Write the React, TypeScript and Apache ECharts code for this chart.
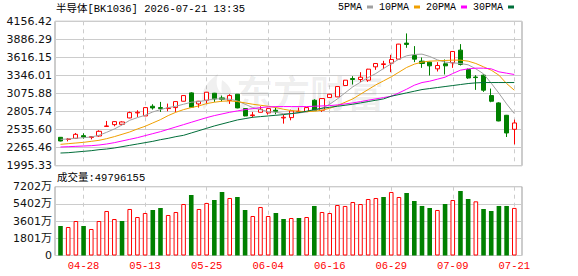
import React, { useEffect, useRef } from 'react';
import * as echarts from 'echarts';

const dates = ['04-23','04-24','04-27','04-28','04-29','04-30','05-06','05-07','05-08','05-11','05-12','05-13','05-14','05-15','05-18','05-19','05-20','05-21','05-22','05-25','05-26','05-27','05-28','05-29','06-01','06-02','06-03','06-04','06-05','06-08','06-09','06-10','06-11','06-12','06-15','06-16','06-17','06-18','06-22','06-23','06-24','06-25','06-26','06-29','06-30','07-01','07-02','07-03','07-06','07-07','07-08','07-09','07-10','07-13','07-14','07-15','07-16','07-17','07-20','07-21'];

const opens = [2420,2388,2405,2445,2418,2440,2583,2610,2615,2710,2785,2740,2885,2865,2850,2865,2960,3085,2920,2975,3080,3010,2970,3065,2850,2745,2795,2785,2825,2710,2715,2805,2805,2975,2825,3015,3025,3195,3300,3285,3275,3475,3510,3530,3590,3830,3645,3560,3545,3445,3520,3535,3725,3435,3322,3350,3045,2935,2750,2540];
const closes = [2365,2395,2465,2425,2430,2510,2590,2655,2650,2790,2795,2865,2860,2850,2860,2955,3045,2870,2960,3095,2995,2990,3045,2860,2740,2755,2840,2850,2810,2720,2815,2810,2865,2820,3000,3065,3180,3275,3285,3320,3440,3525,3520,3585,3815,3810,3590,3525,3490,3495,3490,3705,3510,3308,3314,3125,2960,2665,2485,2635];
const lows = [2360,2360,2395,2400,2390,2430,2582,2585,2600,2705,2725,2740,2835,2800,2810,2800,2958,2860,2865,2925,2950,2955,2920,2855,2735,2715,2793,2760,2765,2625,2675,2800,2800,2815,2800,3010,3023,3193,3210,3245,3250,3430,3440,3395,3588,3760,3545,3460,3345,3405,3360,3460,3495,3295,3130,3100,2945,2660,2425,2315];
const highs = [2425,2410,2485,2480,2437,2525,2665,2660,2660,2805,2825,2868,2915,2950,2925,2958,3048,3095,2965,3100,3085,3045,3065,3068,2855,2800,2885,2860,2865,2760,2835,2865,2870,2990,3003,3070,3183,3278,3335,3395,3445,3530,3565,3655,3818,3975,3785,3615,3550,3545,3585,3707,3815,3450,3350,3365,3150,2945,2755,2685];

const ma5 = [2390,2395,2405,2415,2425,2450,2495,2545,2605,2675,2715,2750,2800,2835,2865,2885,2915,2945,2955,2975,2995,2995,2990,2965,2915,2865,2835,2805,2795,2775,2775,2785,2800,2825,2855,2915,2995,3085,3175,3245,3315,3375,3450,3520,3590,3640,3660,3665,3630,3580,3545,3535,3525,3505,3445,3370,3230,3080,2920,2775];
const ma10 = [2315,2325,2335,2345,2360,2375,2400,2430,2465,2500,2545,2585,2635,2685,2745,2795,2835,2865,2890,2925,2945,2960,2965,2955,2935,2915,2900,2885,2865,2840,2820,2810,2805,2810,2825,2855,2895,2945,2995,3065,3135,3205,3265,3325,3395,3465,3515,3545,3560,3565,3570,3575,3575,3560,3525,3475,3425,3350,3225,3125];
const ma20 = [2275,2280,2285,2290,2295,2305,2320,2340,2365,2390,2415,2445,2475,2505,2540,2575,2610,2645,2680,2715,2745,2770,2795,2815,2835,2850,2865,2875,2880,2880,2880,2880,2880,2885,2890,2895,2905,2920,2935,2955,2975,2995,3015,3035,3085,3140,3200,3240,3260,3290,3320,3375,3425,3445,3455,3455,3445,3400,3380,3360];
const ma30 = [2185,2190,2200,2210,2220,2235,2245,2260,2280,2300,2320,2340,2360,2385,2405,2430,2450,2485,2520,2555,2590,2620,2650,2680,2700,2720,2730,2740,2750,2760,2775,2790,2810,2835,2855,2870,2885,2900,2915,2935,2955,2975,2995,3035,3060,3085,3110,3135,3150,3165,3180,3195,3210,3225,3235,3240,3240,3240,3240,3240];

// volume in 万 (10k)
const volumes = [3090,2985,3610,3090,2775,3610,4660,3820,3610,4870,4030,4450,4765,4975,4240,4555,5390,6335,4870,5500,5810,6650,6020,6125,4765,4135,5080,4135,4450,3820,3925,3925,4030,5185,4555,4450,5285,5185,5600,5390,5915,6020,6125,6650,6125,6545,5705,5185,4975,4765,5390,5810,6755,5915,5670,4870,4660,5185,5185,4979.6155];
const volUp = [0,1,1,0,1,1,1,1,0,1,1,1,0,0,1,1,1,0,1,1,0,0,1,0,0,1,1,1,0,0,1,0,1,0,1,1,1,1,1,1,1,1,0,1,1,0,0,0,0,1,0,1,0,0,1,0,0,0,0,1];

const priceTicks = ['1995.33','2265.46','2535.60','2805.74','3075.88','3346.01','3616.15','3886.29','4156.42'];
const volTicks = ['0','1801万','3601万','5402万','7202万'];
const maNames = ['5PMA','10PMA','20PMA','30PMA'];

const titleText = '半导体[BK1036] 2026-07-21 13:35';
const volText = '成交量:49796155';

const UP = '#ff0000';
const DOWN = '#008000';
const MA_COLORS = ['#a0a0a0','#f0a000','#ff00ff','#006e3a'];

const LOGO_D = 'M20 0 C8 8 0 20 6 36 C10 28 18 24 30 22 C22 20 16 14 20 0 Z M24 6 C34 12 36 22 30 30 C26 26 22 22 24 6 Z';
let logoRegistered = false;

export default function App() {
  const ref = useRef<HTMLDivElement>(null);
  useEffect(() => {
    document.body.style.margin = '0';
    if (!logoRegistered) {
      echarts.graphic.registerShape('emlogo', (echarts.graphic as any).extendPath(LOGO_D, {}));
      logoRegistered = true;
    }
    const chart = echarts.init(ref.current as HTMLDivElement, null, { renderer: 'svg' });
    const showIdx = (i: number) => (i - 3) % 8 === 0;
    const monoFont = '"Liberation Mono", "Noto Sans CJK SC", monospace';
    const plotLeft = 56.65;
    const plotWidth = 461.5;
    const frameLeft = 55;
    const frameWidth = 467;
    const mainTop = 21.3;
    const mainH = 144.4;
    const volTop = 186.7;
    const volH = 68.8;

    const maSeries = [ma5, ma10, ma20, ma30].map((d, k) => ({
      name: maNames[k],
      type: 'line',
      xAxisIndex: 0,
      yAxisIndex: 0,
      data: d,
      showSymbol: false,
      symbol: 'none',
      smooth: false,
      z: 3,
      lineStyle: { width: 1, color: MA_COLORS[k] },
      itemStyle: { color: MA_COLORS[k] },
    }));

    const option: any = {
      animation: false,
      backgroundColor: '#ffffff',
      grid: [
        { left: plotLeft, width: plotWidth, top: mainTop, height: mainH, outerBoundsMode: 'none' },
        { left: plotLeft, width: plotWidth, top: volTop, height: volH, outerBoundsMode: 'none' },
        { left: frameLeft, width: frameWidth, top: mainTop, height: mainH, show: true, borderColor: '#999999', borderWidth: 1, backgroundColor: 'transparent', outerBoundsMode: 'none' },
        { left: frameLeft, width: frameWidth, top: volTop, height: volH, show: true, borderColor: '#999999', borderWidth: 1, backgroundColor: 'transparent', outerBoundsMode: 'none' },
      ],
      legend: {
        data: maNames,
        left: 338,
        top: 2,
        padding: 0,
        itemWidth: 6,
        itemHeight: 3,
        itemGap: 6,
        align: 'right',
        icon: 'rect',
        selectedMode: false,
        textStyle: { fontFamily: monoFont, fontSize: 10, color: '#000000', padding: [0, 0, 0, 0] },
      },
      xAxis: [
        {
          type: 'category', gridIndex: 0, data: dates, boundaryGap: true,
          axisLine: { show: false }, axisTick: { show: false, alignWithLabel: true },
          axisLabel: { show: false },
          splitLine: { show: true, interval: (i: number) => showIdx(i), alignWithLabel: true, lineStyle: { color: '#cccccc', type: [4, 4], width: 1 } },
        },
        {
          type: 'category', gridIndex: 1, data: dates, boundaryGap: true,
          axisLine: { show: false }, axisTick: { show: false, alignWithLabel: true },
          axisLabel: { show: true, interval: (i: number) => showIdx(i), color: UP, fontFamily: monoFont, fontSize: 10.5, margin: 5 },
          splitLine: { show: true, interval: (i: number) => showIdx(i), alignWithLabel: true, lineStyle: { color: '#cccccc', type: [4, 4], width: 1 } },
        },
        { type: 'value', gridIndex: 2, show: false, min: 0, max: 1 },
        { type: 'value', gridIndex: 3, show: false, min: 0, max: 1 },
      ],
      yAxis: [
        { type: 'value', gridIndex: 0, min: 1995.33, max: 4156.42, show: false, splitLine: { show: false } },
        { type: 'value', gridIndex: 1, min: 0, max: 7202, show: false, splitLine: { show: false } },
        {
          type: 'value', gridIndex: 2, min: 0, max: 8, interval: 1,
          axisLine: { show: false }, axisTick: { show: false },
          axisLabel: { formatter: (v: number) => priceTicks[Math.round(v)], color: '#111111', fontFamily: '"DejaVu Sans", sans-serif', fontSize: 11, margin: 3 },
          splitLine: { show: true, lineStyle: { color: '#cccccc', width: 1 } },
        },
        {
          type: 'value', gridIndex: 3, min: 0, max: 4, interval: 1,
          axisLine: { show: false }, axisTick: { show: false },
          axisLabel: { formatter: (v: number) => volTicks[Math.round(v)], color: '#111111', fontFamily: '"DejaVu Sans", "Noto Sans CJK SC", sans-serif', fontSize: 11, margin: 3 },
          splitLine: { show: true, lineStyle: { color: '#cccccc', width: 1 } },
        },
      ],
      graphic: [
        {
          type: 'emlogo', x: 198, y: 74, scaleX: 1, scaleY: 1, z: 1, silent: true,
          style: { fill: 'rgba(0,0,0,0.06)' },
        },
        {
          type: 'text', x: 236, y: 92, z: 1, silent: true,
          style: { text: '东方财富', fill: 'rgba(0,0,0,0.07)', fontSize: 37, fontWeight: 'bold', fontFamily: '"Noto Sans CJK SC", sans-serif', textVerticalAlign: 'middle' },
        },
        {
          type: 'text', x: 56, y: 8.5, z: 10,
          style: { text: titleText, fill: '#000000', fontSize: 10.5, fontFamily: monoFont, textVerticalAlign: 'middle' },
        },
        {
          type: 'text', x: 57, y: 177.5, z: 10,
          style: { text: volText, fill: '#000000', fontSize: 10.5, fontFamily: monoFont, textVerticalAlign: 'middle' },
        },
      ],
      series: [
        {
          name: 'K',
          type: 'candlestick',
          xAxisIndex: 0,
          yAxisIndex: 0,
          barWidth: 4.6,
          z: 2,
          data: dates.map((_, i) => [opens[i], closes[i], lows[i], highs[i]]),
          itemStyle: { color: '#ffffff', color0: DOWN, borderColor: UP, borderColor0: DOWN, borderWidth: 1 },
        },
        ...maSeries,
        {
          name: 'VOL',
          type: 'bar',
          xAxisIndex: 1,
          yAxisIndex: 1,
          barWidth: 4.6,
          data: volumes.map((v, i) => ({
            value: v,
            itemStyle: volUp[i]
              ? { color: '#ffffff', borderColor: UP, borderWidth: 1 }
              : { color: DOWN, borderColor: DOWN, borderWidth: 0 },
          })),
        },
      ],
    };
    chart.setOption(option);
    return () => chart.dispose();
  }, []);
  return <div ref={ref} style={{ width: 578, height: 276 }} />;
}
